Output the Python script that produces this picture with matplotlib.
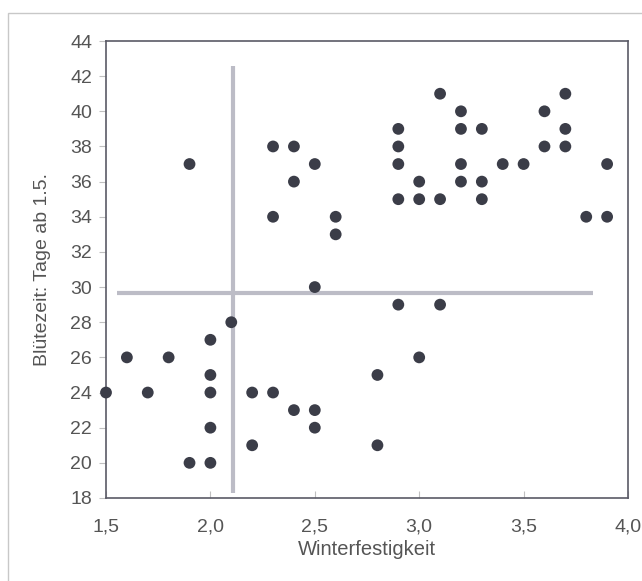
#!/usr/bin/env python3
"""
Scatter plot: Winterfestigkeit vs. Bluetezeit
"""

import matplotlib
matplotlib.use("Agg")
import matplotlib.pyplot as plt
import matplotlib.patches as patches

plt.rcParams['font.family'] = ['Liberation Sans', 'DejaVu Sans']

# Data
winterfestigkeit = [1.5, 1.6, 1.7, 1.8, 1.9, 1.9, 2.0, 2.0, 2.0, 2.0, 2.0, 2.1,
                    2.2, 2.2, 2.3, 2.3, 2.3, 2.4, 2.4, 2.4, 2.5, 2.5, 2.5, 2.5,
                    2.6, 2.6, 2.8, 2.8, 2.9, 2.9, 2.9, 2.9, 2.9, 3.0, 3.0, 3.0,
                    3.1, 3.1, 3.1, 3.2, 3.2, 3.2, 3.2, 3.3, 3.3, 3.3, 3.4, 3.5,
                    3.6, 3.6, 3.7, 3.7, 3.7, 3.8, 3.9, 3.9]
bluetezeit = [24, 26, 24, 26, 37, 20, 27, 25, 24, 22, 20, 28,
              24, 21, 38, 34, 24, 38, 36, 23, 37, 30, 23, 22,
              34, 33, 25, 21, 39, 38, 37, 35, 29, 36, 35, 26,
              41, 35, 29, 40, 39, 37, 36, 39, 36, 35, 37, 37,
              40, 38, 41, 39, 38, 34, 37, 34]

# Mean reference lines (value, start, end)
mean_x = 2.11
mean_x_span = [18.3, 42.6]
mean_y = 29.67
mean_y_span = [1.553, 3.83]

x_ticks = [1.5, 2.0, 2.5, 3.0, 3.5, 4.0]
x_ticklabels = ['1,5', '2,0', '2,5', '3,0', '3,5', '4,0']
y_ticks = list(range(18, 45, 2))

text_color = '#555555'
dot_color = '#3b3d48'
line_color = '#bcbcc6'

fig = plt.figure(figsize=(6.42, 5.81), dpi=100)
ax = fig.add_axes([106 / 642, 1 - 498 / 581, 522 / 642, 457 / 581])

# outer frame of the original figure (cut off at right and bottom)
frame = patches.Rectangle((8 / 642, -0.1), 1.2, 1 - 13 / 581 + 0.1,
                          transform=fig.transFigure, fill=False,
                          edgecolor='#c8c8c8', linewidth=1.0)
fig.patches.append(frame)

ax.plot([mean_x, mean_x], mean_x_span, color=line_color, linewidth=3.0,
        solid_capstyle='butt', zorder=2)
ax.plot(mean_y_span, [mean_y, mean_y], color=line_color, linewidth=3.0,
        solid_capstyle='butt', zorder=2)

ax.scatter(winterfestigkeit, bluetezeit, s=72, color=dot_color,
           edgecolors='none', zorder=3, clip_on=False)

ax.set_xlim(1.5, 4.0)
ax.set_ylim(18, 44)
ax.set_xticks(x_ticks)
ax.set_xticklabels(x_ticklabels)
ax.set_yticks(y_ticks)

for spine in ax.spines.values():
    spine.set_color('#5a5a66')
    spine.set_linewidth(1.2)

ax.tick_params(axis='x', direction='in', length=5, width=0.8,
               color='#c0c0c0', labelsize=14, labelcolor=text_color, pad=15)
ax.tick_params(axis='y', direction='out', length=5, width=0.8,
               color='#c0c0c0', labelsize=14, labelcolor=text_color, pad=5)

ax.set_xlabel('Winterfestigkeit', fontsize=14.5, color=text_color, labelpad=3)
ax.set_ylabel('Blütezeit: Tage ab 1.5.', fontsize=14, color=text_color,
              labelpad=14)

fig.savefig('out.png', dpi=100, facecolor='white')
plt.close(fig)
